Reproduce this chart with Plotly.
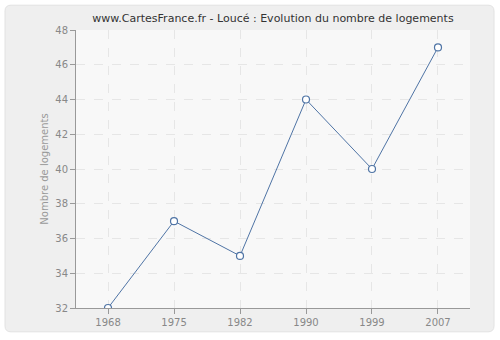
import plotly.graph_objects as go

years = ["1968", "1975", "1982", "1990", "1999", "2007"]
logements = [32, 37, 35, 44, 40, 47]
y_ticks = [32, 34, 36, 38, 40, 42, 44, 46, 48]
title_text = "www.CartesFrance.fr - Loucé : Evolution du nombre de logements"
y_title = "Nombre de logements"

W, H = 500, 340
L, R, T, B = 76, 30, 30, 30
pw, ph = W - L - R, H - T - B

def px_x(p):
    return (p - L) / pw

def px_y(p):
    return (H - B - p) / ph

fig = go.Figure()
fig.add_trace(go.Scatter(
    x=years, y=logements, mode="lines+markers",
    line=dict(color="#4f74a5", width=1),
    marker=dict(symbol="circle", size=7, color="white",
                line=dict(color="#4f74a5", width=1.2)),
    hoverinfo="x+y", showlegend=False,
))

# outer rounded panel
x0, x1, y0, y1, r = px_x(5), px_x(494), px_y(334), px_y(5), 6
rx, ry = r / pw, r / ph
path = (f"M {x0+rx},{y0} L {x1-rx},{y0} Q {x1},{y0} {x1},{y0+ry} "
        f"L {x1},{y1-ry} Q {x1},{y1} {x1-rx},{y1} L {x0+rx},{y1} "
        f"Q {x0},{y1} {x0},{y1-ry} L {x0},{y0+ry} Q {x0},{y0} {x0+rx},{y0} Z")
fig.add_shape(type="path", path=path, xref="paper", yref="paper",
              fillcolor="#efefef", line=dict(color="#e2e2e2", width=1), layer="below")
fig.add_shape(type="rect", x0=0, x1=1, y0=0, y1=1, xref="paper", yref="paper",
              fillcolor="#f8f8f8", line=dict(width=0), layer="below")

fig.update_layout(
    width=W, height=H,
    margin=dict(l=L, r=R, t=T, b=B),
    paper_bgcolor="white",
    plot_bgcolor="rgba(0,0,0,0)",
    title=dict(text=title_text, x=0.5, xref="paper", xanchor="center",
               y=1 - 18 / H, yanchor="middle",
               font=dict(family="DejaVu Sans", size=11, color="#333333")),
    font=dict(family="DejaVu Sans", size=10, color="#888888"),
    xaxis=dict(
        type="category", range=[-0.485, 5.485],
        showline=True, linecolor="#999999", linewidth=1,
        ticks="outside", ticklen=5, tickcolor="#999999",
        showgrid=True, gridcolor="#e6e6e6", griddash="dash", gridwidth=1,
        tickfont=dict(size=10, color="#888888"), zeroline=False,
    ),
    yaxis=dict(
        range=[32, 48], tickvals=y_ticks,
        showline=True, linecolor="#999999", linewidth=1,
        ticks="outside", ticklen=5, tickcolor="#999999",
        showgrid=True, gridcolor="#e6e6e6", griddash="dash", gridwidth=1,
        tickfont=dict(size=10, color="#888888"), zeroline=False,
        title=dict(text=y_title, font=dict(size=10, color="#999999"), standoff=4),
    ),
)

fig.write_html("out.html")
